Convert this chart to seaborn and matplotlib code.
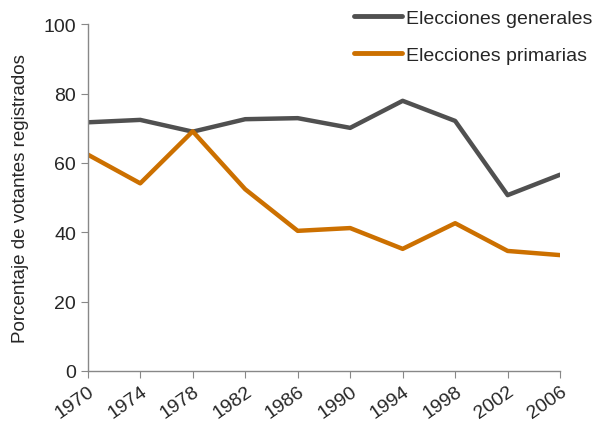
import pandas as pd
import matplotlib.pyplot as plt
import seaborn as sns

years = [1970, 1974, 1978, 1982, 1986, 1990, 1994, 1998, 2002, 2006]
generales = [71.7, 72.4, 69.0, 72.6, 72.9, 70.1, 77.9, 72.1, 50.7, 56.6]
primarias = [62.4, 54.1, 69.1, 52.4, 40.4, 41.2, 35.2, 42.6, 34.6, 33.4]
series_names = ["Elecciones generales", "Elecciones primarias"]
palette = ["#505050", "#CC7000"]

df = pd.DataFrame({
    "year": years * 2,
    "value": generales + primarias,
    "serie": [series_names[0]] * len(years) + [series_names[1]] * len(years),
})

sns.set_style("white")
plt.rcParams["font.family"] = ["Liberation Sans", "DejaVu Sans"]

fig = plt.figure(figsize=(6.01, 4.27), dpi=100)
ax = fig.add_axes([0.146, 0.129, 0.786, 0.812])

sns.lineplot(data=df, x="year", y="value", hue="serie", palette=palette,
             linewidth=3.2, ax=ax, legend=True)

ax.set_xlim(1970, 2006)
ax.set_ylim(0, 100)
ax.set_xticks(years)
ax.set_xticklabels([str(y) for y in years], rotation=35, ha="right",
                   rotation_mode="anchor", fontsize=14)
ax.set_yticks([0, 20, 40, 60, 80, 100])
ax.tick_params(axis="y", labelsize=14, length=5, color="#888888", left=True)
ax.tick_params(axis="x", length=5, color="#888888", bottom=True)
ax.set_xlabel("")
ax.set_ylabel("Porcentaje de votantes registrados", fontsize=13.5, labelpad=10)

for side in ["top", "right"]:
    ax.spines[side].set_visible(False)
for side in ["left", "bottom"]:
    ax.spines[side].set_color("#888888")
    ax.spines[side].set_linewidth(1)

handles, labels = ax.get_legend_handles_labels()
ax.get_legend().remove()
leg = fig.legend(handles, labels, loc="upper left", bbox_to_anchor=(0.582, 0.985),
                 frameon=False, fontsize=14, handlelength=2.5, handletextpad=0.2,
                 labelspacing=1.0, borderaxespad=0, borderpad=0.2)
for line in leg.get_lines():
    line.set_linewidth(3.5)

fig.savefig("out.png", dpi=100)
